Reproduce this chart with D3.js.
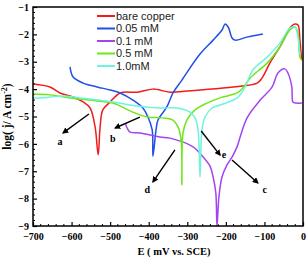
<!DOCTYPE html>
<html>
<head>
<meta charset="utf-8">
<script src="https://cdn.jsdelivr.net/npm/d3@7"></script>
<style>
    body { margin: 0; background: #fff; }
    .tick-label { font-family: "Liberation Serif", "Times New Roman", serif; font-weight: bold; font-size: 10px; }
    .axis-title { font-family: "Liberation Serif", "Times New Roman", serif; font-weight: bold; font-size: 10.5px; }
    .legend-label { font-family: "Liberation Sans", Arial, sans-serif; font-size: 11px; fill: #222; }
    .note { font-family: "Liberation Serif", "Times New Roman", serif; font-weight: bold; font-size: 10px; }
</style>
</head>
<body>
<div id="chart"></div>
<script>
// series names + colours
const seriesNames = ['bare copper', '0.05 mM', '0.1 mM', '0.5 mM', '1.0mM'];
const seriesColors = ['#f21b1b', '#2050e8', '#a443f0', '#6ee61a', '#6cf5dc'];

// [E (mV vs SCE), log j]
const bareCopper = [[-700,-3.81],[-656,-3.92],[-630,-4.14],[-596,-4.29],[-570,-4.47],[-552,-4.69],[-539,-5.38],[-531,-6.4],
    [-526,-5.38],[-519,-4.76],[-500,-4.47],[-474,-4.14],[-430,-4.11],[-389,-4.0],[-345,-4.11],[-301,-4.07],[-267,-4.03],
    [-181,-3.92],[-119,-3.78],[-106,-3.59],[-86,-3.05],[-60,-2.46],[-34,-1.77],[-21,-1.62],[-13,-1.66],[-8,-2.21],[-5,-2.68],[-3,-2.94]];
const inh005 = [[-604,-3.19],[-596,-3.56],[-570,-3.78],[-534,-3.92],[-500,-4.03],[-474,-4.14],[-441,-4.4],[-415,-4.69],
    [-402,-5.02],[-391,-5.49],[-389,-6.45],[-381,-5.49],[-376,-5.13],[-353,-4.65],[-337,-4.14],[-314,-3.67],[-267,-2.72],
    [-233,-2.21],[-210,-1.84],[-202,-1.62],[-194,-1.73],[-184,-2.13],[-176,-2.21],[-145,-2.1],[-104,-1.99]];
const inh01 = [[-461,-5.24],[-456,-5.42],[-448,-5.57],[-423,-5.6],[-371,-5.75],[-345,-5.79],[-285,-6.11],[-259,-6.48],
    [-241,-6.81],[-233,-7.21],[-226,-7.79],[-223,-9.0],[-218,-7.94],[-210,-7.21],[-197,-6.77],[-184,-6.48],[-171,-6.11],
    [-163,-5.75],[-145,-5.05],[-111,-4.4],[-80,-3.92],[-65,-3.41],[-47,-3.26],[-39,-3.41],[-29,-3.92],[-26,-4.47],[-18,-4.51],[-3,-4.51]];
const inh05 = [[-700,-4.18],[-656,-4.21],[-604,-4.32],[-534,-4.43],[-493,-4.51],[-441,-4.84],[-404,-5.02],[-363,-5.05],
    [-337,-5.13],[-324,-5.38],[-316,-5.86],[-314,-7.5],[-311,-5.6],[-301,-5.13],[-280,-4.76],[-249,-4.51],[-215,-4.32],
    [-171,-4.14],[-156,-3.96],[-137,-3.59],[-93,-3.05],[-60,-2.46],[-34,-1.84],[-21,-1.73],[-13,-1.95],[-8,-2.83],[-3,-2.94]];
const inh10 = [[-700,-4.32],[-682,-4.32],[-656,-4.29],[-622,-4.25],[-578,-4.32],[-493,-4.47],[-430,-4.62],[-371,-4.69],
    [-327,-4.69],[-293,-4.84],[-280,-5.05],[-272,-5.49],[-267,-7.21],[-262,-5.49],[-254,-5.02],[-236,-4.69],[-215,-4.58],
    [-171,-4.32],[-150,-3.92],[-130,-3.3],[-93,-2.83],[-60,-2.32],[-34,-1.77],[-21,-1.73],[-13,-2.1],[-8,-2.75]];

const xTicks = [-700, -600, -500, -400, -300, -200, -100, 0];
const yTicks = [-1, -2, -3, -4, -5, -6, -7, -8, -9];

// arrow annotations: from, to, label position (data units)
const notes = [
    { text: 'a', from: [-555, -4.91], to: [-622, -5.60], at: [-630, -5.93] },
    { text: 'b', from: [-423, -5.02], to: [-487, -5.42], at: [-493, -5.82] },
    { text: 'd', from: [-332, -6.22], to: [-389, -7.39], at: [-404, -7.68] },
    { text: 'e', from: [-264, -5.53], to: [-215, -6.41], at: [-205, -6.37] },
    { text: 'c', from: [-184, -6.59], to: [-117, -7.43], at: [-99, -7.68] }
];

class TafelPlot {
    constructor(_config, _data) {
        this.config = {
            parentElement: _config.parentElement,
            containerWidth: 307,
            containerHeight: 259,
            margin: { top: 7, right: 4, bottom: 33, left: 33 }
        };
        this.data = _data;
        this.initVis();
    }

    initVis() {
        let vis = this;
        vis.width = vis.config.containerWidth - vis.config.margin.left - vis.config.margin.right;
        vis.height = vis.config.containerHeight - vis.config.margin.top - vis.config.margin.bottom;

        vis.svg = d3.select(vis.config.parentElement).append('svg')
            .attr('width', vis.config.containerWidth)
            .attr('height', vis.config.containerHeight);
        vis.chart = vis.svg.append('g')
            .attr('transform', `translate(${vis.config.margin.left},${vis.config.margin.top})`);

        vis.x = d3.scaleLinear().domain([-700, 0]).range([0, vis.width]);
        vis.y = d3.scaleLinear().domain([-9, -1]).range([vis.height, 0]);

        // arrow head
        vis.svg.append('defs').append('marker')
            .attr('id', 'head')
            .attr('viewBox', '0 0 10 10')
            .attr('refX', 8).attr('refY', 5)
            .attr('markerWidth', 4.5).attr('markerHeight', 4.5)
            .attr('orient', 'auto')
            .append('path')
            .attr('d', 'M0,0 L10,5 L0,10 z')
            .attr('fill', '#000');

        vis.renderVis();
    }

    renderVis() {
        let vis = this;

        // bottom axis, ticks pointing inward
        const xAxis = d3.axisBottom(vis.x).tickValues(xTicks).tickSize(-4).tickPadding(7).tickFormat(d3.format('d'));
        const gx = vis.chart.append('g').attr('transform', `translate(0,${vis.height})`).call(xAxis);
        const yAxis = d3.axisLeft(vis.y).tickValues(yTicks).tickSize(-4).tickPadding(4).tickFormat(d3.format('d'));
        const gy = vis.chart.append('g').call(yAxis);
        [gx, gy].forEach(g => {
            g.select('.domain').remove();
            g.selectAll('line').attr('stroke', '#000').attr('stroke-width', 1.2);
            g.selectAll('text').attr('class', 'tick-label').attr('fill', '#000');
        });

        // minor ticks
        vis.chart.append('g').selectAll('line')
            .data(d3.range(-700, 1, 20).filter(d => d % 100 !== 0))
            .join('line')
            .attr('x1', d => vis.x(d)).attr('x2', d => vis.x(d))
            .attr('y1', vis.height).attr('y2', vis.height - 2)
            .attr('stroke', '#000').attr('stroke-width', 1);
        vis.chart.append('g').selectAll('line')
            .data(d3.range(-9, -1, 0.2).filter(d => Math.abs(d - Math.round(d)) > 0.01))
            .join('line')
            .attr('x1', 0).attr('x2', 2)
            .attr('y1', d => vis.y(d)).attr('y2', d => vis.y(d))
            .attr('stroke', '#000').attr('stroke-width', 1);

        // curves
        const line = d3.line()
            .x(d => vis.x(d[0]))
            .y(d => vis.y(d[1]))
            .curve(d3.curveCatmullRom.alpha(0.5));
        vis.chart.selectAll('.curve')
            .data(vis.data)
            .join('path')
            .attr('class', 'curve')
            .attr('d', d => line(d.values))
            .attr('fill', 'none')
            .attr('stroke', d => d.color)
            .attr('stroke-width', 1.5);

        // frame
        vis.chart.append('rect')
            .attr('width', vis.width).attr('height', vis.height)
            .attr('fill', 'none').attr('stroke', '#000').attr('stroke-width', 1.5);

        // arrows
        vis.chart.selectAll('.arrow')
            .data(notes)
            .join('line')
            .attr('class', 'arrow')
            .attr('x1', d => vis.x(d.from[0])).attr('y1', d => vis.y(d.from[1]))
            .attr('x2', d => vis.x(d.to[0])).attr('y2', d => vis.y(d.to[1]))
            .attr('stroke', '#000').attr('stroke-width', 1.4)
            .attr('marker-end', 'url(#head)');
        vis.chart.selectAll('.note')
            .data(notes)
            .join('text')
            .attr('class', 'note')
            .attr('x', d => vis.x(d.at[0])).attr('y', d => vis.y(d.at[1]))
            .attr('text-anchor', 'middle').attr('dy', '.35em')
            .text(d => d.text);

        // legend
        const legend = vis.svg.append('g').attr('transform', 'translate(97,16)');
        const rows = legend.selectAll('g')
            .data(vis.data)
            .join('g')
            .attr('transform', (d, i) => `translate(0,${i * 12.5})`);
        rows.append('line')
            .attr('x1', 0).attr('x2', 18)
            .attr('stroke', d => d.color).attr('stroke-width', 2);
        rows.append('text')
            .attr('class', 'legend-label')
            .attr('x', 19).attr('dy', '.35em')
            .text(d => d.name);

        // axis titles
        vis.svg.append('text')
            .attr('class', 'axis-title')
            .attr('x', vis.config.margin.left + vis.width / 2 + 6)
            .attr('y', 255)
            .attr('text-anchor', 'middle')
            .text('E ( mV vs. SCE)');
        const yt = vis.svg.append('text')
            .attr('class', 'axis-title')
            .style('font-size', '11.5px')
            .attr('transform', `translate(11,${vis.config.margin.top + vis.height / 2}) rotate(-90)`)
            .attr('text-anchor', 'middle');
        yt.append('tspan').text('log( j/ A cm');
        yt.append('tspan').attr('dy', -4).style('font-size', '8px').text('-2');
        yt.append('tspan').attr('dy', 4).text(')');
    }
}

const seriesValues = [bareCopper, inh005, inh01, inh05, inh10];
const plotData = seriesNames.map((n, i) => ({ name: n, color: seriesColors[i], values: seriesValues[i] }));
new TafelPlot({ parentElement: '#chart' }, plotData);
</script>
</body>
</html>
